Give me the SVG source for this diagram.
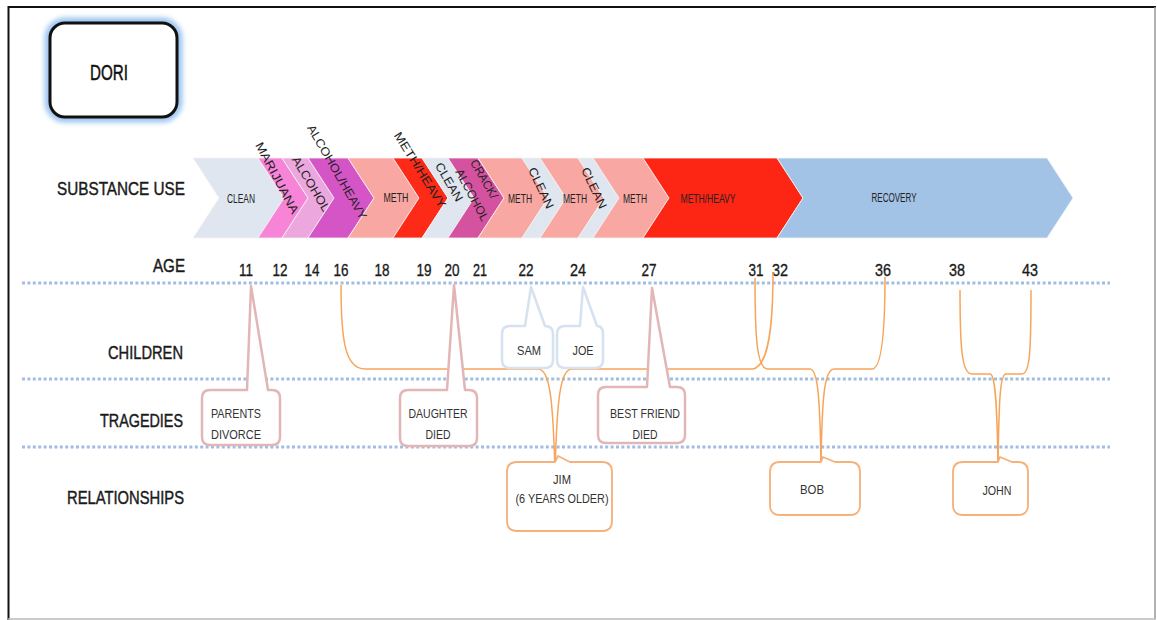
<svg xmlns="http://www.w3.org/2000/svg" width="1157" height="620" viewBox="0 0 1157 620">
<defs>
<style>
.lbl{font-family:"Liberation Sans",Arial,sans-serif;font-size:19px;fill:#1a1a1a;stroke:#1a1a1a;stroke-width:0.45;text-anchor:end}
.age{font-family:"Liberation Sans",Arial,sans-serif;font-size:17px;fill:#1a1a1a;stroke:#1a1a1a;stroke-width:0.35;text-anchor:middle}
.seg{font-family:"Liberation Sans",Arial,sans-serif;font-size:12.5px;fill:#222;text-anchor:middle;dominant-baseline:central}
.rot{font-size:12px}
.box{font-family:"Liberation Sans",Arial,sans-serif;font-size:13.5px;fill:#333}
.dot{stroke:#a3bde0;stroke-width:3;stroke-dasharray:3 2.4;fill:none}
.trag{fill:#fff;stroke:#e2b6b6;stroke-width:2.5;stroke-linejoin:round}
.kid{fill:#fff;stroke:#d6e2ef;stroke-width:2.5;stroke-linejoin:round}
.rel{fill:#fff;stroke:#f6b07a;stroke-width:1.8;stroke-linejoin:round}
.brace{fill:none;stroke:#f7a55a;stroke-width:1.5}
</style>
<filter id="glow" x="-20%" y="-20%" width="140%" height="140%">
<feGaussianBlur stdDeviation="2.5"/>
</filter>
</defs>
<rect x="0" y="0" width="1157" height="620" fill="#fff"/>
<g id="frame">
<line x1="8" y1="7" x2="1156" y2="7" stroke="#111" stroke-width="2"/>
<line x1="8.5" y1="6" x2="8.5" y2="620" stroke="#111" stroke-width="2"/>
<line x1="1155" y1="7" x2="1155" y2="619" stroke="#999" stroke-width="1.5"/>
<line x1="8" y1="619" x2="1156" y2="619" stroke="#bbb" stroke-width="1.5"/>
</g>
<g id="dori">
<rect x="49" y="22" width="129" height="96" rx="16" fill="none" stroke="#9cc6f0" stroke-width="9" filter="url(#glow)"/>
<rect x="50" y="23" width="127" height="94" rx="15" fill="#fff" stroke="#111" stroke-width="3"/>
<text x="90" y="80" font-family="Liberation Sans,Arial,sans-serif" font-size="22" fill="#111" stroke="#111" stroke-width="0.5" textLength="38" lengthAdjust="spacingAndGlyphs">DORI</text>
</g>
<g id="row-labels">
<text class="lbl" x="185" y="195" textLength="128" lengthAdjust="spacingAndGlyphs">SUBSTANCE  USE</text>
<text class="lbl" x="185" y="272" textLength="32" lengthAdjust="spacingAndGlyphs">AGE</text>
<text class="lbl" x="183" y="359" textLength="75" lengthAdjust="spacingAndGlyphs">CHILDREN</text>
<text class="lbl" x="183" y="427" textLength="83" lengthAdjust="spacingAndGlyphs">TRAGEDIES</text>
<text class="lbl" x="184" y="504" textLength="117" lengthAdjust="spacingAndGlyphs">RELATIONSHIPS</text>
</g>
<g id="substance" stroke="#f4f4f4" stroke-width="0.8">
<polygon points="193,158 258,158 284,198 258,238 193,238 219,198" fill="#dfe6f0"/>
<polygon points="258,158 282,158 308,198 282,238 258,238 284,198" fill="#f884d8"/>
<polygon points="282,158 308,158 334,198 308,238 282,238 308,198" fill="#eca8de"/>
<polygon points="308,158 348,158 374,198 348,238 308,238 334,198" fill="#d655c6"/>
<polygon points="348,158 393,158 419,198 393,238 348,238 374,198" fill="#f9a7a2"/>
<polygon points="393,158 422,158 448,198 422,238 393,238 419,198" fill="#fd2a18"/>
<polygon points="422,158 448,158 474,198 448,238 422,238 448,198" fill="#dfe6f0"/>
<polygon points="448,158 478,158 504,198 478,238 448,238 474,198" fill="#d4529f"/>
<polygon points="478,158 522,158 548,198 522,238 478,238 504,198" fill="#f9a7a2"/>
<polygon points="522,158 540,158 566,198 540,238 522,238 548,198" fill="#dfe6f0"/>
<polygon points="540,158 578,158 604,198 578,238 540,238 566,198" fill="#f9a7a2"/>
<polygon points="578,158 593,158 619,198 593,238 578,238 604,198" fill="#dfe6f0"/>
<polygon points="593,158 643,158 669,198 643,238 593,238 619,198" fill="#f9a7a2"/>
<polygon points="643,158 777,158 803,198 777,238 643,238 669,198" fill="#fd2614"/>
<polygon points="777,158 1047,158 1073,198 1047,238 777,238 803,198" fill="#a3c3e6"/>
</g>
<g id="substance-labels">
<text class="seg" x="241" y="199" textLength="28" lengthAdjust="spacingAndGlyphs">CLEAN</text>
<text class="seg rot" transform="translate(277,178) rotate(62)" textLength="79" lengthAdjust="spacingAndGlyphs">MARIJUANA</text>
<text class="seg rot" transform="translate(311,184) rotate(59)" textLength="62" lengthAdjust="spacingAndGlyphs">ALCOHOL</text>
<text class="seg rot" transform="translate(337,172) rotate(60)" textLength="107" lengthAdjust="spacingAndGlyphs">ALCOHOL/HEAVY</text>
<text class="seg" x="396" y="198" textLength="25" lengthAdjust="spacingAndGlyphs">METH</text>
<text class="seg rot" transform="translate(420,170) rotate(58)" textLength="87" lengthAdjust="spacingAndGlyphs">METH/HEAVY</text>
<text class="seg rot" transform="translate(449,182) rotate(60)" textLength="43" lengthAdjust="spacingAndGlyphs">CLEAN</text>
<text class="seg rot" transform="translate(484,179) rotate(60)" textLength="43" lengthAdjust="spacingAndGlyphs">CRACK/</text>
<text class="seg rot" transform="translate(472,195) rotate(62)" textLength="57" lengthAdjust="spacingAndGlyphs">ALCOHOL</text>
<text class="seg" x="520" y="199" textLength="24" lengthAdjust="spacingAndGlyphs">METH</text>
<text class="seg rot" transform="translate(541,188) rotate(65)" textLength="44" lengthAdjust="spacingAndGlyphs">CLEAN</text>
<text class="seg" x="575" y="199" textLength="24" lengthAdjust="spacingAndGlyphs">METH</text>
<text class="seg rot" transform="translate(594,188) rotate(65)" textLength="44" lengthAdjust="spacingAndGlyphs">CLEAN</text>
<text class="seg" x="635" y="199" textLength="24" lengthAdjust="spacingAndGlyphs">METH</text>
<text class="seg" x="708" y="199" textLength="55" lengthAdjust="spacingAndGlyphs">METH/HEAVY</text>
<text class="seg" x="894" y="198" textLength="45" lengthAdjust="spacingAndGlyphs">RECOVERY</text>
</g>
<g id="ages">
<text class="age" x="246" y="276" textLength="14" lengthAdjust="spacingAndGlyphs">11</text>
<text class="age" x="280" y="276" textLength="15" lengthAdjust="spacingAndGlyphs">12</text>
<text class="age" x="312" y="276" textLength="15" lengthAdjust="spacingAndGlyphs">14</text>
<text class="age" x="341" y="276" textLength="15" lengthAdjust="spacingAndGlyphs">16</text>
<text class="age" x="382" y="276" textLength="15" lengthAdjust="spacingAndGlyphs">18</text>
<text class="age" x="424" y="276" textLength="15" lengthAdjust="spacingAndGlyphs">19</text>
<text class="age" x="452" y="276" textLength="15" lengthAdjust="spacingAndGlyphs">20</text>
<text class="age" x="480" y="276" textLength="14" lengthAdjust="spacingAndGlyphs">21</text>
<text class="age" x="526" y="276" textLength="15" lengthAdjust="spacingAndGlyphs">22</text>
<text class="age" x="578" y="276" textLength="16" lengthAdjust="spacingAndGlyphs">24</text>
<text class="age" x="649" y="276" textLength="15" lengthAdjust="spacingAndGlyphs">27</text>
<text class="age" x="756" y="276" textLength="15" lengthAdjust="spacingAndGlyphs">31</text>
<text class="age" x="780" y="276" textLength="16" lengthAdjust="spacingAndGlyphs">32</text>
<text class="age" x="883" y="276" textLength="16" lengthAdjust="spacingAndGlyphs">36</text>
<text class="age" x="957" y="276" textLength="16" lengthAdjust="spacingAndGlyphs">38</text>
<text class="age" x="1030" y="276" textLength="16" lengthAdjust="spacingAndGlyphs">43</text>
</g>
<g id="separators">
<line class="dot" x1="22" y1="283" x2="1110" y2="283"/>
<line class="dot" x1="22" y1="379" x2="1110" y2="379"/>
<line class="dot" x1="22" y1="447" x2="1110" y2="447"/>
</g>
<g id="connectors">
<path class="brace" d="M341 285 C341 340 345 369 365 369 L538 369 C550 369 553 400 555 472"/>
<path class="brace" d="M555 472 C557 400 560 369 572 369 L753 369 C768 366 773 330 773 272"/>
<path class="brace" d="M755 278 C755 340 757 369 768 369 L810 369 C818 369 820 400 821 465"/>
<path class="brace" d="M821 465 C822 400 824 369 834 369 L872 369 C882 369 885 330 885 277"/>
<path class="brace" d="M960 290 C960 350 962 374 972 374 L990 374 C995 374 997 400 998 465"/>
<path class="brace" d="M998 465 C999 400 1000 374 1006 374 L1022 374 C1030 374 1031 350 1031 290"/>
</g>
<g id="tragedy-parents-divorce">
<path class="trag" d="M210 390 L247 390 L251 286 L268 390 L272 390 Q280 390 280 398 L280 437 Q280 445 272 445 L210 445 Q202 445 202 437 L202 398 Q202 390 210 390 Z"/>
<text class="box" x="211" y="418" textLength="50" lengthAdjust="spacingAndGlyphs">PARENTS</text>
<text class="box" x="211" y="439" textLength="50" lengthAdjust="spacingAndGlyphs">DIVORCE</text>
</g>
<g id="tragedy-daughter-died">
<path class="trag" d="M408 390 L447 390 L454 285 L465 390 L469 390 Q477 390 477 398 L477 438 Q477 446 469 446 L408 446 Q400 446 400 438 L400 398 Q400 390 408 390 Z"/>
<text class="box" x="438" y="418" text-anchor="middle" textLength="59" lengthAdjust="spacingAndGlyphs">DAUGHTER</text>
<text class="box" x="438" y="439" text-anchor="middle" textLength="25" lengthAdjust="spacingAndGlyphs">DIED</text>
</g>
<g id="tragedy-best-friend-died">
<path class="trag" d="M606 387 L647 387 L652 288 L670 387 L677 387 Q685 387 685 395 L685 435 Q685 443 677 443 L606 443 Q598 443 598 435 L598 395 Q598 387 606 387 Z"/>
<text class="box" x="645" y="418" text-anchor="middle" textLength="70" lengthAdjust="spacingAndGlyphs">BEST FRIEND</text>
<text class="box" x="645" y="439" text-anchor="middle" textLength="25" lengthAdjust="spacingAndGlyphs">DIED</text>
</g>
<g id="child-sam">
<path class="kid" d="M510 326 L525 326 L531 287 L545 326 Q553 326 553 334 L553 360 Q553 368 545 368 L510 368 Q502 368 502 360 L502 334 Q502 326 510 326 Z"/>
<text class="box" x="529" y="355" text-anchor="middle" textLength="24" lengthAdjust="spacingAndGlyphs">SAM</text>
</g>
<g id="child-joe">
<path class="kid" d="M565 326 L580 326 L583 287 L597 326 Q603 326 603 334 L603 360 Q603 368 595 368 L565 368 Q557 368 557 360 L557 334 Q557 326 565 326 Z"/>
<text class="box" x="583" y="355" text-anchor="middle" textLength="21" lengthAdjust="spacingAndGlyphs">JOE</text>
</g>
<g id="rel-jim">
<path class="rel" d="M517 462 L555 462 L558 456 L570 462 L602 462 Q612 462 612 472 L612 521 Q612 531 602 531 L517 531 Q507 531 507 521 L507 472 Q507 462 517 462 Z"/>
<text class="box" x="562" y="484" text-anchor="middle" textLength="18" lengthAdjust="spacingAndGlyphs">JIM</text>
<text class="box" x="562" y="503" text-anchor="middle" textLength="93" lengthAdjust="spacingAndGlyphs">(6 YEARS OLDER)</text>
</g>
<g id="rel-bob">
<path class="rel" d="M780 462 L821 462 L823 457 L835 462 L850 462 Q860 462 860 472 L860 505 Q860 515 850 515 L780 515 Q770 515 770 505 L770 472 Q770 462 780 462 Z"/>
<text class="box" x="812" y="494" text-anchor="middle" textLength="24" lengthAdjust="spacingAndGlyphs">BOB</text>
</g>
<g id="rel-john">
<path class="rel" d="M963 462 L998 462 L1000 457 L1012 462 L1018 462 Q1028 462 1028 472 L1028 505 Q1028 515 1018 515 L963 515 Q953 515 953 505 L953 472 Q953 462 963 462 Z"/>
<text class="box" x="997" y="495" text-anchor="middle" textLength="29" lengthAdjust="spacingAndGlyphs">JOHN</text>
</g>
</svg>
